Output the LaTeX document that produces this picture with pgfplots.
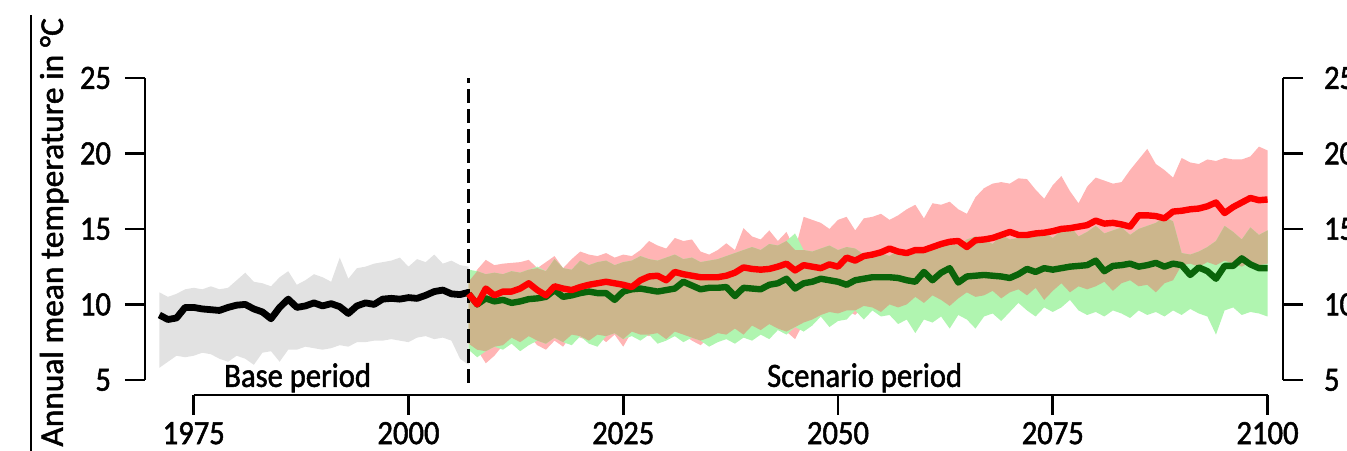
\documentclass[border=0pt]{standalone}
\usepackage{fontspec}
\setmainfont{Carlito}[FakeStretch=0.9, FakeBold=1.5]
\newfontfamily\ylabfont{Carlito}[FakeBold=1.5]
\usepackage{pgfplots}
\pgfplotsset{compat=1.18}
\usepgfplotslibrary{fillbetween}
\usepackage{pgfplotstable}

\definecolor{greyband}{RGB}{226,226,226}
\definecolor{pinkband}{RGB}{255,180,180}
\definecolor{greenband}{RGB}{176,245,176}
\definecolor{tanband}{RGB}{204,182,140}
\definecolor{dkgreen}{RGB}{10,100,10}

\pgfplotstableread{
year bm bu bl
1971 9.3 10.8 5.8
1972 9.0 10.5 6.2
1973 9.1 10.7 6.6
1974 9.8 11.0 6.5
1975 9.8 11.1 6.6
1976 9.7 11.0 6.8
1977 9.65 11.2 6.7
1978 9.6 11.0 6.4
1979 9.8 11.1 6.2
1980 9.95 11.6 6.6
1981 10.0 12.1 6.4
1982 9.7 11.5 6.0
1983 9.5 11.4 6.8
1984 9.05 11.2 6.9
1985 9.8 11.8 6.2
1986 10.35 12.2 7.0
1987 9.8 11.3 7.0
1988 9.9 11.6 7.2
1989 10.1 12.0 7.1
1990 9.9 11.8 7.0
1991 10.05 11.5 7.1
1992 9.85 13.1 7.3
1993 9.4 11.7 7.2
1994 9.9 12.4 7.5
1995 10.1 12.5 7.5
1996 10.0 12.7 7.6
1997 10.35 12.8 7.6
1998 10.4 12.9 7.7
1999 10.35 13.1 7.6
2000 10.45 12.5 7.5
2001 10.4 13.0 7.8
2002 10.6 12.8 7.9
2003 10.85 13.3 7.7
2004 10.95 12.7 7.8
2005 10.7 12.9 7.6
2006 10.65 12.6 6.4
2007 10.8 12.5 6.0
}\base

\pgfplotstableread{
year rm ru rl gm gu gl
2007 10.7 11.5 7.4 10.7 12.3 7.0
2008 10.0 12.3 7.0 10.0 12.2 6.5
2009 11.05 12.95 6.1 10.4 12.0 6.9
2010 10.6 12.6 6.6 10.2 12.1 7.2
2011 10.85 12.7 7.3 10.3 12.0 7.0
2012 10.85 12.75 7.8 10.1 12.2 7.4
2013 11.05 12.8 7.5 10.2 12.1 6.9
2014 11.4 12.95 7.9 10.35 12.3 7.3
2015 10.95 12.4 7.3 10.4 12.5 7.6
2016 10.6 12.8 7.0 10.5 12.2 7.4
2017 11.2 13.2 7.6 10.95 13.0 7.8
2018 11.05 12.4 7.2 10.5 12.4 7.5
2019 10.95 13.0 8.0 10.6 12.3 7.3
2020 11.15 13.5 7.8 10.75 12.9 7.9
2021 11.3 13.3 7.6 10.85 12.6 7.4
2022 11.4 13.2 8.0 10.75 12.8 7.2
2023 11.5 13.4 7.5 10.75 12.9 7.9
2024 11.4 13.1 8.0 10.3 12.6 8.1
2025 11.3 13.3 7.2 10.85 12.8 7.7
2026 11.15 13.2 8.2 11.0 12.9 7.9
2027 11.6 13.6 8.0 11.05 13.2 7.6
2028 11.85 14.2 7.9 10.95 13.0 8.0
2029 11.9 13.9 8.1 10.85 12.9 7.4
2030 11.6 13.7 7.7 10.95 13.1 7.6
2031 12.15 14.4 8.2 11.05 13.3 7.9
2032 12.0 14.2 8.0 11.5 13.0 7.5
2033 11.9 14.3 7.6 11.25 13.1 7.8
2034 11.8 13.5 7.3 11.0 12.8 7.6
2035 11.8 13.3 7.8 11.1 12.9 7.2
2036 11.8 13.6 8.1 11.1 13.0 7.5
2037 11.9 14.05 8.0 11.15 13.2 7.7
2038 12.1 13.6 8.4 10.55 13.4 7.4
2039 12.45 15.05 8.0 11.1 13.6 7.8
2040 12.35 14.5 8.6 11.05 13.8 7.6
2041 12.3 14.3 8.3 11.0 13.6 8.0
2042 12.35 14.9 8.7 11.3 14.0 7.7
2043 12.5 14.2 8.4 11.4 13.9 8.3
2044 12.7 14.8 8.2 11.7 14.2 8.0
2045 12.25 13.6 7.7 11.05 14.7 8.5
2046 12.6 15.8 8.8 11.4 13.6 8.2
2047 12.5 15.6 9.0 11.5 13.5 8.6
2048 12.4 15.4 9.3 11.7 13.7 9.2
2049 12.65 15.0 9.5 11.6 13.9 8.5
2050 12.5 15.6 9.4 11.5 13.6 8.9
2051 13.1 15.8 9.6 11.3 13.8 9.0
2052 12.9 14.9 9.3 11.6 13.7 9.6
2053 13.2 15.7 9.9 11.7 13.3 9.0
2054 13.3 15.8 9.8 11.8 13.5 9.6
2055 13.45 16.0 9.5 11.8 13.4 9.2
2056 13.7 15.6 10.0 11.8 13.2 9.3
2057 13.5 15.9 9.8 11.75 13.6 8.7
2058 13.4 16.3 10.0 11.6 13.4 9.0
2059 13.6 16.6 10.5 11.5 13.8 8.1
2060 13.6 15.7 10.1 12.15 13.6 9.0
2061 13.8 16.7 10.6 11.6 14.0 8.8
2062 14.0 16.6 10.3 12.1 13.8 9.2
2063 14.15 16.8 9.9 12.4 14.0 8.4
2064 14.2 16.3 10.4 11.45 13.9 9.3
2065 13.8 16.0 10.8 11.85 14.3 9.0
2066 14.25 17.1 10.5 11.9 14.5 8.4
2067 14.3 17.7 10.6 11.95 14.3 9.2
2068 14.4 18.0 10.9 11.9 14.0 9.4
2069 14.6 18.1 10.4 11.85 14.6 8.9
2070 14.8 18.0 10.8 11.75 14.3 9.5
2071 14.6 18.35 11.0 12.0 14.4 10.1
2072 14.6 18.3 10.6 12.35 14.7 9.6
2073 14.7 17.6 11.1 12.15 14.5 9.2
2074 14.75 17.0 10.3 12.4 14.8 9.8
2075 14.85 17.9 10.9 12.3 14.4 9.5
2076 15.0 18.5 11.4 12.4 14.9 9.8
2077 15.05 17.5 10.8 12.5 15.2 10.3
2078 15.15 16.7 11.2 12.55 14.5 9.6
2079 15.25 17.8 11.0 12.6 14.8 9.3
2080 15.55 18.4 11.2 12.9 15.2 9.5
2081 15.35 18.2 11.5 12.2 14.7 9.2
2082 15.4 18.0 10.9 12.55 14.9 9.6
2083 15.3 18.1 11.4 12.6 15.1 9.4
2084 15.15 18.9 11.6 12.7 14.6 9.1
2085 15.9 19.6 11.2 12.5 15.0 9.6
2086 15.9 20.3 11.3 12.6 15.2 9.3
2087 15.85 19.3 10.8 12.75 15.4 9.5
2088 15.7 18.9 11.4 12.5 15.8 9.2
2089 16.15 18.4 11.6 12.7 15.5 9.6
2090 16.2 19.7 12.6 12.6 13.4 9.3
2091 16.3 19.4 12.7 11.95 13.3 9.7
2092 16.35 19.3 12.5 12.45 13.5 9.4
2093 16.5 19.6 12.8 12.2 13.8 9.2
2094 16.75 19.5 12.6 11.7 14.2 8.0
2095 16.05 19.7 12.9 12.55 15.2 9.6
2096 16.45 19.6 12.7 12.55 14.8 9.8
2097 16.75 19.6 12.5 13.05 14.3 9.3
2098 17.05 19.8 12.8 12.65 15.1 9.5
2099 16.9 20.45 12.6 12.4 14.6 9.4
2100 16.95 20.2 12.7 12.4 14.9 9.2
}\scen

\pgfplotsset{
  commonax/.style={
    at={(0,0)}, anchor=south west,
    scale only axis, width=569bp, height=160.8bp,
    xmin=1969.33, xmax=2101.8, ymin=4.0, ymax=25.3,
    axis line style={draw=none},
    ytick={5,10,15,20,25},
    tick align=outside, major tick length=10bp,
    every tick/.style={black, line width=1.3bp},
    tick label style={font=\fontsize{17bp}{20bp}\selectfont},
    /pgf/number format/assume math mode=true,
    /pgf/number format/1000 sep={},
    scaled ticks=false,
    clip=false,
  }
}

\begin{document}
\begin{tikzpicture}
\begin{axis}[commonax,
  tick pos=left,
  xtick={1975,2000,2025,2050,2075,2100},
  yticklabel style={xshift=-3.5bp},
]
% grey base band
\addplot[name path=bu, draw=none, forget plot] table[x=year,y=bu]{\base};
\addplot[name path=bl, draw=none, forget plot] table[x=year,y=bl]{\base};
\addplot[fill=greyband, draw=none] fill between[of=bu and bl];
% red band
\addplot[name path=ru, draw=none, forget plot] table[x=year,y=ru]{\scen};
\addplot[name path=rl, draw=none, forget plot] table[x=year,y=rl]{\scen};
\addplot[fill=pinkband, draw=none] fill between[of=ru and rl];
% green band
\addplot[name path=gu, draw=none, forget plot] table[x=year,y=gu]{\scen};
\addplot[name path=gl, draw=none, forget plot] table[x=year,y=gl]{\scen};
\addplot[fill=greenband, draw=none] fill between[of=gu and gl];
% overlap
\addplot[name path=ou, draw=none, forget plot] table[x=year,y expr={min(\thisrow{ru},\thisrow{gu})}]{\scen};
\addplot[name path=ol, draw=none, forget plot] table[x=year,y expr={max(\thisrow{rl},\thisrow{gl})}]{\scen};
\addplot[fill=tanband, draw=none] fill between[of=ou and ol];
% divider
\draw[black, line width=1.2bp, dash pattern=on 7bp off 3bp] (axis cs:2007,4.8) -- (axis cs:2007,25);
% means
\addplot[black, line width=3.4bp, line join=round] table[x=year,y=bm]{\base};
\addplot[dkgreen, line width=3.2bp, line join=round] table[x=year,y=gm]{\scen};
\addplot[red, line width=3.2bp, line join=round] table[x=year,y=rm]{\scen};
% spines
\draw[black, line width=1.3bp] (axis cs:1975,4.0) -- (axis cs:2100,4.0);
\draw[black, line width=1.3bp] (axis cs:1969.33,5) -- (axis cs:1969.33,25);
\draw[black, line width=1.3bp] (axis cs:2101.8,5) -- (axis cs:2101.8,25);
% period labels
\node[anchor=base, font=\fontsize{17bp}{20bp}\selectfont] at (axis cs:1987.1,4.54) {Base period};
\node[anchor=base, font=\fontsize{17bp}{20bp}\selectfont] at (axis cs:2053.1,4.54) {Scenario period};
\end{axis}
\begin{axis}[commonax,
  ytick pos=right, yticklabel pos=right, xtick=\empty,
  yticklabel style={xshift=7bp},
]
\addplot[draw=none, forget plot] coordinates {(2000,10) (2050,20)};
\end{axis}
\draw[black, line width=1bp] (-57bp,-30bp) -- (-57bp,190bp);
\node[rotate=90, anchor=base west, inner sep=0pt, font=\ylabfont\fontsize{16.7bp}{20bp}\selectfont] at (-41bp,-26bp) {Annual mean temperature in °C};
\fill[white] (-80bp,190bp) rectangle (-20bp,205bp);
\pgfresetboundingbox
\useasboundingbox (-72.5bp,-28bp) rectangle (601bp,197.5bp);
\end{tikzpicture}
\end{document}
